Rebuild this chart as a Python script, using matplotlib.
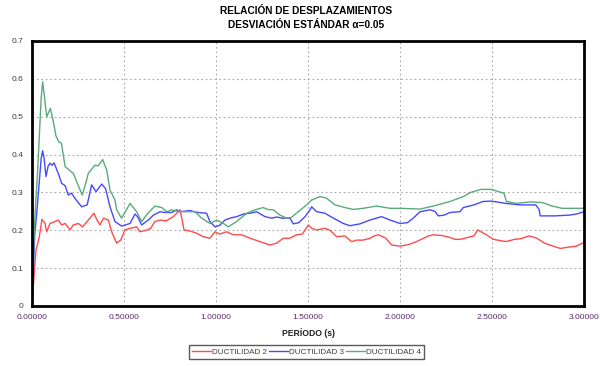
import matplotlib
matplotlib.use("Agg")
import matplotlib.pyplot as plt

plt.rcParams['font.family'] = ['Liberation Sans', 'DejaVu Sans']

# (periodo, relacion)
ductilidad_2 = [(0.005, 0.034), (0.012, 0.086), (0.022, 0.148), (0.04, 0.183), (0.054, 0.229), (0.071, 0.218),
                (0.08, 0.196), (0.098, 0.218), (0.125, 0.223), (0.143, 0.227), (0.161, 0.214), (0.18, 0.218),
                (0.207, 0.201), (0.224, 0.214), (0.252, 0.218), (0.275, 0.209), (0.306, 0.227), (0.337, 0.245),
                (0.352, 0.228), (0.37, 0.214), (0.388, 0.232), (0.415, 0.227), (0.433, 0.196), (0.46, 0.166),
                (0.482, 0.174), (0.505, 0.201), (0.533, 0.205), (0.569, 0.209), (0.587, 0.196), (0.62, 0.2),
                (0.645, 0.205), (0.668, 0.223), (0.696, 0.227), (0.73, 0.225), (0.768, 0.236), (0.795, 0.249),
                (0.804, 0.254), (0.815, 0.23), (0.826, 0.201), (0.86, 0.198), (0.895, 0.192), (0.931, 0.183),
                (0.967, 0.179), (0.995, 0.196), (1.02, 0.19), (1.058, 0.196), (1.094, 0.188), (1.14, 0.188),
                (1.185, 0.179), (1.239, 0.17), (1.293, 0.161), (1.33, 0.166), (1.366, 0.179), (1.40, 0.179),
                (1.438, 0.188), (1.47, 0.19), (1.502, 0.214), (1.52, 0.205), (1.547, 0.201), (1.592, 0.205),
                (1.62, 0.2), (1.656, 0.183), (1.70, 0.185), (1.737, 0.17), (1.765, 0.174), (1.80, 0.174),
                (1.837, 0.179), (1.86, 0.185), (1.882, 0.188), (1.92, 0.18), (1.955, 0.161), (2.0, 0.158),
                (2.045, 0.162), (2.09, 0.17), (2.154, 0.185), (2.181, 0.188), (2.23, 0.186), (2.272, 0.181),
                (2.299, 0.176), (2.326, 0.176), (2.36, 0.18), (2.402, 0.185), (2.422, 0.201), (2.44, 0.196),
                (2.47, 0.188), (2.508, 0.176), (2.575, 0.17), (2.623, 0.176), (2.66, 0.178), (2.7, 0.185),
                (2.74, 0.18), (2.785, 0.166), (2.833, 0.158), (2.872, 0.152), (2.91, 0.155), (2.958, 0.158),
                (3.0, 0.168)]

ductilidad_3 = [(0.005, 0.05), (0.01, 0.13), (0.015, 0.19), (0.025, 0.24), (0.04, 0.33), (0.05, 0.39),
                (0.058, 0.41), (0.066, 0.39), (0.076, 0.342), (0.088, 0.37), (0.098, 0.377), (0.11, 0.372),
                (0.12, 0.378), (0.143, 0.35), (0.161, 0.324), (0.18, 0.318), (0.197, 0.293), (0.215, 0.298),
                (0.234, 0.284), (0.27, 0.262), (0.3, 0.267), (0.324, 0.32), (0.348, 0.302), (0.379, 0.322),
                (0.40, 0.31), (0.424, 0.262), (0.451, 0.223), (0.487, 0.211), (0.533, 0.218), (0.56, 0.243),
                (0.575, 0.235), (0.596, 0.214), (0.632, 0.227), (0.66, 0.24), (0.696, 0.249), (0.72, 0.247),
                (0.76, 0.247), (0.786, 0.254), (0.804, 0.249), (0.859, 0.252), (0.9, 0.247), (0.949, 0.245),
                (0.967, 0.223), (0.995, 0.209), (1.02, 0.213), (1.049, 0.227), (1.076, 0.232), (1.112, 0.236),
                (1.15, 0.243), (1.185, 0.245), (1.221, 0.249), (1.266, 0.236), (1.303, 0.232), (1.33, 0.235),
                (1.36, 0.232), (1.402, 0.232), (1.42, 0.217), (1.45, 0.22), (1.484, 0.236), (1.511, 0.254),
                (1.52, 0.262), (1.547, 0.249), (1.592, 0.245), (1.638, 0.232), (1.692, 0.218), (1.728, 0.212),
                (1.783, 0.217), (1.837, 0.227), (1.9, 0.236), (1.946, 0.227), (2.0, 0.218), (2.04, 0.22),
                (2.072, 0.232), (2.109, 0.249), (2.163, 0.254), (2.19, 0.25), (2.208, 0.238), (2.24, 0.24),
                (2.272, 0.247), (2.326, 0.249), (2.344, 0.26), (2.402, 0.267), (2.45, 0.276), (2.498, 0.277),
                (2.575, 0.271), (2.652, 0.267), (2.738, 0.267), (2.756, 0.255), (2.762, 0.238), (2.842, 0.238),
                (2.92, 0.24), (2.96, 0.243), (3.0, 0.249)]

ductilidad_4 = [(0.005, 0.06), (0.012, 0.2), (0.02, 0.27), (0.03, 0.35), (0.04, 0.45), (0.05, 0.55),
                (0.058, 0.592), (0.066, 0.56), (0.08, 0.5), (0.1, 0.522), (0.115, 0.49), (0.13, 0.45),
                (0.145, 0.434), (0.16, 0.43), (0.18, 0.368), (0.2, 0.36), (0.225, 0.35), (0.25, 0.32),
                (0.273, 0.293), (0.29, 0.32), (0.306, 0.35), (0.342, 0.372), (0.36, 0.37), (0.384, 0.387),
                (0.406, 0.359), (0.424, 0.306), (0.451, 0.28), (0.46, 0.254), (0.487, 0.232), (0.533, 0.271),
                (0.569, 0.249), (0.596, 0.223), (0.63, 0.245), (0.668, 0.264), (0.705, 0.26), (0.732, 0.249),
                (0.759, 0.254), (0.79, 0.25), (0.832, 0.249), (0.886, 0.249), (0.922, 0.232), (0.967, 0.218),
                (1.004, 0.227), (1.04, 0.218), (1.067, 0.209), (1.112, 0.223), (1.167, 0.245), (1.212, 0.254),
                (1.257, 0.26), (1.28, 0.255), (1.312, 0.254), (1.348, 0.24), (1.384, 0.232), (1.41, 0.234),
                (1.447, 0.249), (1.493, 0.267), (1.52, 0.28), (1.565, 0.289), (1.6, 0.285), (1.647, 0.267),
                (1.701, 0.26), (1.746, 0.255), (1.8, 0.258), (1.873, 0.264), (1.946, 0.258), (2.0, 0.258),
                (2.109, 0.256), (2.181, 0.264), (2.272, 0.276), (2.344, 0.289), (2.384, 0.3), (2.441, 0.308),
                (2.498, 0.308), (2.536, 0.302), (2.565, 0.298), (2.579, 0.276), (2.632, 0.271), (2.709, 0.275),
                (2.776, 0.273), (2.82, 0.265), (2.88, 0.258), (3.0, 0.258)]

labels = ['DUCTILIDAD 2', 'DUCTILIDAD 3', 'DUCTILIDAD 4']
colors = ['#ff4b4b', '#4848ff', '#5aaa7c']
x_ticks = [0.0, 0.5, 1.0, 1.5, 2.0, 2.5, 3.0]
y_ticks = [0, 0.1, 0.2, 0.3, 0.4, 0.5, 0.6, 0.7]

fig = plt.figure(figsize=(6, 3.66), dpi=100)
ax = fig.add_axes([0.0533, 0.164, 0.92, 0.724])

for serie, lab, col in zip([ductilidad_2, ductilidad_3, ductilidad_4], labels, colors):
    t, v = zip(*serie)
    ax.plot(t, v, color=col, lw=1.0, label=lab)

ax.set_xlim(0, 3)
ax.set_ylim(0, 0.7)
ax.set_xticks(x_ticks)
ax.set_xticklabels(['%.5f' % x for x in x_ticks], fontsize=6.1, color='#5a2d6a')
ax.set_yticks(y_ticks)
ax.set_yticklabels(['0' if y == 0 else '%g' % y for y in y_ticks], fontsize=6.1, color='#404040')
ax.tick_params(length=0, pad=6)
ax.grid(True, color='#a8a8a8', linestyle=(0, (1.5, 2.5)), lw=0.8)
for s in ax.spines.values():
    s.set_linewidth(2)
    s.set_color('black')

ax.set_xlabel('PERÍODO (s)', fontsize=6.2, fontweight='bold', color='#202020', labelpad=5)

fig.text(0.51, 0.97, 'RELACIÓN DE DESPLAZAMIENTOS', ha='center', va='center',
         fontsize=7.3, fontweight='bold')
fig.text(0.51, 0.933, 'DESVIACIÓN ESTÁNDAR α=0.05', ha='center', va='center',
         fontsize=7.3, fontweight='bold')

leg = fig.legend(loc='center', bbox_to_anchor=(0.511, 0.038), ncol=3, fontsize=5.9,
                 frameon=True, fancybox=False, handlelength=2.3, handletextpad=0.2,
                 columnspacing=0.2, borderpad=0.35, borderaxespad=0)
leg.get_frame().set_edgecolor('#303030')
leg.get_frame().set_linewidth(1)
for txt in leg.get_texts():
    txt.set_color('#404040')

fig.savefig('out.png', dpi=100)
